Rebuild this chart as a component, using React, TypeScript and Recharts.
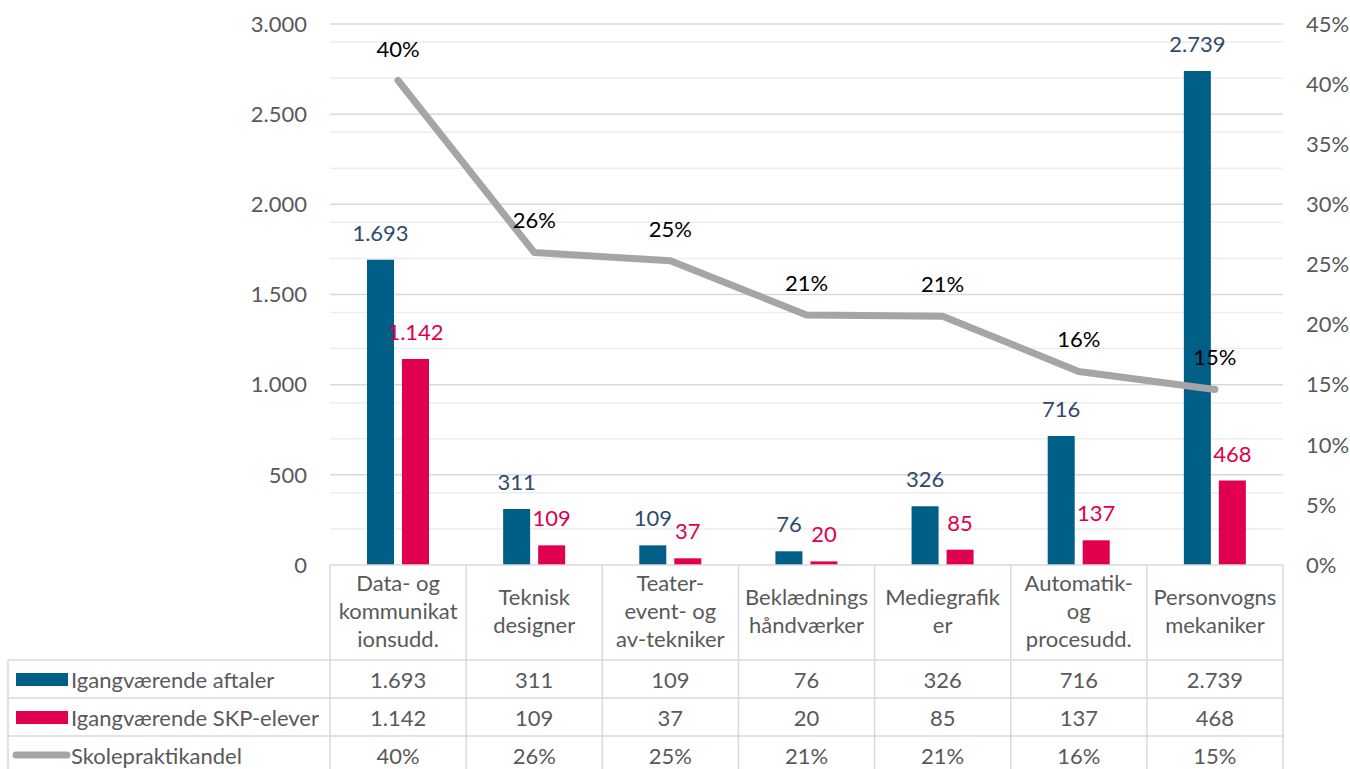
import React from 'react';
import {
  ComposedChart, Bar, Line, XAxis, YAxis, CartesianGrid, LabelList,
} from 'recharts';

const categoryLines: string[][] = [
  ['Data- og', 'kommunikat', 'ionsudd.'],
  ['Teknisk', 'designer'],
  ['Teater-', 'event- og', 'av-tekniker'],
  ['Beklædnings', 'håndværker'],
  ['Mediegrafik', 'er'],
  ['Automatik-', 'og', 'procesudd.'],
  ['Personvogns', 'mekaniker'],
];
const categories = categoryLines.map((l) => l.join(' '));
const aftaler = [1693, 311, 109, 76, 326, 716, 2739];
const skpElever = [1142, 109, 37, 20, 85, 137, 468];
const andel = [40.3, 26.0, 25.3, 20.8, 20.7, 16.1, 14.6];
const leftTicks = [0, 500, 1000, 1500, 2000, 2500, 3000];
const rightTicks = [0, 5, 10, 15, 20, 25, 30, 35, 40, 45];
const minorGrid = [100, 200, 300, 400, 600, 700, 800, 900, 1100, 1200, 1300, 1400, 1600, 1700, 1800, 1900, 2100, 2200, 2300, 2400, 2600, 2700, 2800, 2900];
const majorGrid = [500, 1000, 1500, 2000, 2500, 3000];

const seriesNames = ['Igangværende aftaler', 'Igangværende SKP-elever', 'Skolepraktikandel'];

const BLUE = '#005F87';
const PINK = '#E0004D';
const GRAY = '#A5A5A5';
const TEXT = '#595959';
const BORDER = '#D9D9D9';
const FONT = 'Lato, "Open Sans", sans-serif';
const FS = 22;

const W = 1350;
const H = 769;
const LEFT_W = 330;
const RIGHT_W = 67;
const TOP = 24;
const XAXIS_H = 204;
const PLOT_BOTTOM = H - XAXIS_H;
const BAND = (W - LEFT_W - RIGHT_W) / categories.length;
const HEADER_BOTTOM = 660;
const ROW_H = 38;
const LEGEND_LEFT = 8;

const fmt = (n: number) => String(n).replace(/\B(?=(\d{3})+(?!\d))/g, '.');
const pct = (n: number) => `${Math.round(n)}%`;

const data = categories.map((c, i) => ({
  name: c,
  aftaler: aftaler[i],
  skp: skpElever[i],
  andel: andel[i],
}));

const rowValues = [aftaler.map(fmt), skpElever.map(fmt), andel.map(pct)];

function TableTick(props: any) {
  const { x, index } = props;
  const i = index as number;
  const left = x - BAND / 2;
  const right = x + BAND / 2;
  const lines = categoryLines[i] || [];
  const lh = 28;
  const headerMid = (PLOT_BOTTOM + HEADER_BOTTOM) / 2 - 2;
  const startY = headerMid - ((lines.length - 1) * lh) / 2;
  return (
    <g>
      {i === 0 && (
        <g>
          <line x1={left} y1={PLOT_BOTTOM} x2={left} y2={H} stroke={BORDER} strokeWidth={1.5} />
          <line x1={LEGEND_LEFT} y1={HEADER_BOTTOM} x2={LEGEND_LEFT} y2={H} stroke={BORDER} strokeWidth={1.5} />
          {[0, 1, 2].map((r) => (
            <line key={r} x1={LEGEND_LEFT} y1={HEADER_BOTTOM + r * ROW_H} x2={left} y2={HEADER_BOTTOM + r * ROW_H} stroke={BORDER} strokeWidth={1.5} />
          ))}
          <rect x={16} y={HEADER_BOTTOM + 13} width={52} height={13} fill={BLUE} />
          <rect x={16} y={HEADER_BOTTOM + ROW_H + 13} width={52} height={13} fill={PINK} />
          <line x1={16} y1={HEADER_BOTTOM + 2 * ROW_H + 19} x2={67} y2={HEADER_BOTTOM + 2 * ROW_H + 19} stroke={GRAY} strokeWidth={7} strokeLinecap="round" />
          {seriesNames.map((s, r) => (
            <text key={s} x={71} y={HEADER_BOTTOM + r * ROW_H + ROW_H / 2} dominantBaseline="central" fill={TEXT} fontSize={FS} fontFamily={FONT}>{s}</text>
          ))}
        </g>
      )}
      <line x1={right} y1={PLOT_BOTTOM} x2={right} y2={H} stroke={BORDER} strokeWidth={1.5} />
      {[0, 1, 2].map((r) => (
        <line key={r} x1={left} y1={HEADER_BOTTOM + r * ROW_H} x2={right} y2={HEADER_BOTTOM + r * ROW_H} stroke={BORDER} strokeWidth={1.5} />
      ))}
      {lines.map((l, k) => (
        <text key={k} x={x} y={startY + k * lh} textAnchor="middle" dominantBaseline="central" fill={TEXT} fontSize={FS} fontFamily={FONT}>{l}</text>
      ))}
      {rowValues.map((vals, r) => (
        <text key={r} x={x} y={HEADER_BOTTOM + r * ROW_H + ROW_H / 2} textAnchor="middle" dominantBaseline="central" fill={TEXT} fontSize={FS} fontFamily={FONT}>{vals[i]}</text>
      ))}
    </g>
  );
}

export default function App() {
  return (
    <div style={{ position: 'absolute', left: 0, top: 0, width: W, height: H, background: '#fff' }}>
      <ComposedChart
        width={W}
        height={H}
        data={data}
        margin={{ top: TOP, right: 0, bottom: 0, left: 0 }}
        barSize={27}
        barGap={8}
      >
        <CartesianGrid yAxisId="left" vertical={false} horizontalValues={minorGrid} stroke="#EDEDED" strokeWidth={1.5} />
        <CartesianGrid yAxisId="left" vertical={false} horizontalValues={majorGrid} stroke={BORDER} strokeWidth={1.5} />
        <XAxis
          dataKey="name"
          height={XAXIS_H}
          tickLine={false}
          axisLine={{ stroke: BORDER, strokeWidth: 1.5 }}
          tick={<TableTick />}
          interval={0}
        />
        <YAxis
          yAxisId="left"
          orientation="left"
          width={LEFT_W}
          domain={[0, 3000]}
          ticks={leftTicks}
          tickFormatter={fmt}
          axisLine={false}
          tickLine={false}
          tickSize={0}
          tickMargin={23}
          tick={{ fill: TEXT, fontSize: FS, fontFamily: FONT }}
        />
        <YAxis
          yAxisId="right"
          orientation="right"
          width={RIGHT_W}
          domain={[0, 45]}
          ticks={rightTicks}
          tickFormatter={(v: number) => `${v}%`}
          axisLine={false}
          tickLine={false}
          tickSize={0}
          tickMargin={23}
          tick={{ fill: TEXT, fontSize: FS, fontFamily: FONT, textAnchor: 'start' }}
        />
        <Bar yAxisId="left" dataKey="aftaler" fill={BLUE} isAnimationActive={false}>
          <LabelList dataKey="aftaler" position="top" offset={19} formatter={(v: any) => fmt(Number(v))} fill="#2F4A6E" fontSize={FS} fontFamily={FONT} />
        </Bar>
        <Bar yAxisId="left" dataKey="skp" fill={PINK} isAnimationActive={false}>
          <LabelList dataKey="skp" position="top" offset={19} formatter={(v: any) => fmt(Number(v))} fill={PINK} fontSize={FS} fontFamily={FONT} />
        </Bar>
        <Line
          yAxisId="right"
          dataKey="andel"
          stroke={GRAY}
          strokeWidth={7}
          strokeLinecap="round"
          strokeLinejoin="round"
          dot={false}
          activeDot={false}
          type="linear"
          isAnimationActive={false}
        >
          <LabelList dataKey="andel" position="top" offset={24} formatter={(v: any) => pct(Number(v))} fill="#000" fontSize={FS} fontFamily={FONT} />
        </Line>
      </ComposedChart>
    </div>
  );
}
